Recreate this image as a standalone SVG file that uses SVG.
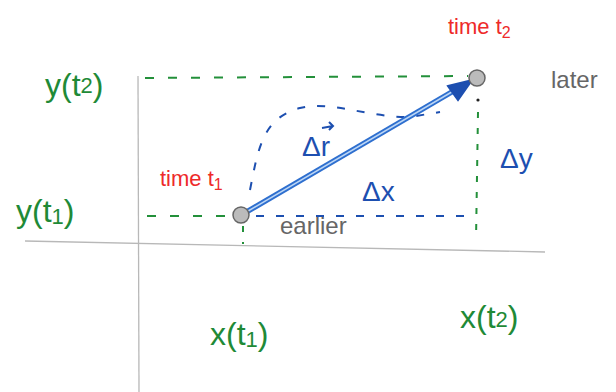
<svg xmlns="http://www.w3.org/2000/svg" width="616" height="392" viewBox="0 0 616 392">
<style>
.axis{stroke:#b8b8b8;stroke-width:1.3;fill:none}
.gd{stroke:#23903a;stroke-width:2;fill:none;stroke-dasharray:9 14}
.gv{stroke:#23903a;stroke-width:2;fill:none;stroke-dasharray:6 10}
.bd{stroke:#1d4fb0;stroke-width:2;fill:none;stroke-dasharray:8 12}
.g{fill:#1f8a37;font-family:"Liberation Sans",sans-serif;font-size:32px}
.r{fill:#ee2a2a;font-family:"Liberation Sans",sans-serif;font-size:22px}
.b{fill:#1d4fb0;font-family:"Liberation Sans",sans-serif;font-size:28px}
.k{fill:#666;font-family:"Liberation Sans",sans-serif;font-size:24px}
.pt{fill:#bbb;stroke:#666;stroke-width:1.5}
</style>
<g id="axes">
<line class="axis" x1="138" y1="76" x2="139" y2="392"/>
<line class="axis" x1="25" y1="241" x2="545" y2="252"/>
</g>
<g id="connectors">
<line class="gd" x1="145" y1="78" x2="468" y2="76"/>
<line class="gd" x1="147" y1="216" x2="232" y2="216"/>
<line class="gv" x1="243" y1="226" x2="243" y2="244"/>
<line class="gv" x1="478" y1="112" x2="476" y2="240"/>
<circle cx="478" cy="100" r="1.6" fill="#222"/>
<path class="bd" d="M256,216 L470,216"/>
<path class="bd" d="M250,190 C258,150 262,118 300,108 C330,100 370,118 410,117 L440,112"/>
<line x1="243" y1="214" x2="462" y2="86" stroke="#2e6fcf" stroke-width="5.5"/>
<line x1="243" y1="214" x2="462" y2="86" stroke="#bcd6f5" stroke-width="1.5"/>
<path d="M448,86 L472,80 L458,100 z" fill="#1d4fb0" stroke="#1d4fb0" stroke-width="2"/>
</g>
<g id="p1"><circle class="pt" cx="241" cy="215" r="8"/></g>
<g id="p2"><circle class="pt" cx="477" cy="78" r="8"/></g>
<g id="labels">
<text class="r" x="448" y="34">time t<tspan font-size="16" dy="4">2</tspan></text>
<text class="k" x="551" y="88">later</text>
<text class="g" x="45" y="96">y(t<tspan font-size="22" dy="-3">2</tspan><tspan dy="3">)</tspan></text>
<text class="g" x="16" y="222">y(t<tspan font-size="22" dy="2">1</tspan><tspan dy="-2">)</tspan></text>
<text class="r" x="160" y="186">time t<tspan font-size="16" dy="4">1</tspan></text>
<text class="b" x="302" y="156">Δr</text>
<path d="M322,128 L333,126 M329,122 L333,126 L329,130" stroke="#1d4fb0" stroke-width="2" fill="none"/>
<text class="b" x="362" y="201">Δx</text>
<text class="b" x="500" y="168" font-size="34">Δy</text>
<text class="k" x="280" y="234">earlier</text>
<text class="g" x="210" y="345">x(t<tspan font-size="22" dy="2">1</tspan><tspan dy="-2">)</tspan></text>
<text class="g" x="460" y="328">x(t<tspan font-size="22" dy="-1">2</tspan><tspan dy="1">)</tspan></text>
</g>
</svg>
